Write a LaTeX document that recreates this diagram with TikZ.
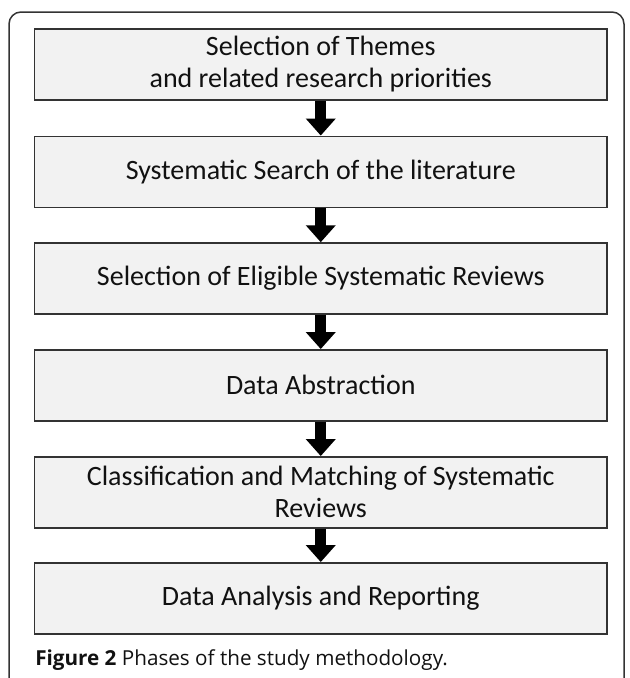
\documentclass[tikz,border=0pt]{standalone}
\usepackage{fontspec}
\setmainfont{Carlito}
\newfontfamily\capfont{Open Sans}
\usetikzlibrary{arrows.meta}
\definecolor{boxline}{HTML}{333333}
\definecolor{boxfill}{HTML}{F2F2F2}
\definecolor{txt}{HTML}{111111}
\tikzset{
  phasebox/.style={draw=boxline, fill=boxfill, line width=1.5*0.75pt,
    minimum width=572.5*0.75pt, minimum height=71*0.75pt, inner sep=0pt,
    align=center, text=txt, font=\fontsize{21}{24}\selectfont},
  flowarrow/.style={line width=11*0.75pt, black,
    -{Triangle[width=29*0.75pt, length=17*0.75pt]}},
  frameline/.style={draw=boxline, line width=1.5*0.75pt, rounded corners=12*0.75pt}
}
\begin{document}
\begin{tikzpicture}[x=0.75pt, y=-0.75pt]
\useasboundingbox (0,0) rectangle (629,678);
\draw[frameline] (9,700) -- (9,12) -- (624,12) -- (624,700);
\node[phasebox] (b1) at (320.75,64.5) {Selection of Themes\\and related research priorities};
\node[phasebox] (b2) at (320.75,171.8) {Systematic Search of the literature};
\node[phasebox] (b3) at (320.75,278.5) {Selection of Eligible Systematic Reviews};
\node[phasebox] (b4) at (320.75,385.3) {Data Abstraction};
\node[phasebox] (b5) at (320.75,492.3) {Classification and Matching of Systematic\\Reviews};
\node[phasebox] (b6) at (320.75,598.3) {Data Analysis and Reporting};
\foreach \a/\b in {b1/b2,b2/b3,b3/b4,b4/b5,b5/b6}
  \draw[flowarrow] (\a.south) -- (\b.north);
\node[anchor=base west, inner sep=0pt, text=txt, font=\capfont\fontsize{15.5}{18}\selectfont] (cap) at (35,665) {\textbf{Figure 2} Phases of the study methodology.};
\end{tikzpicture}
\end{document}
